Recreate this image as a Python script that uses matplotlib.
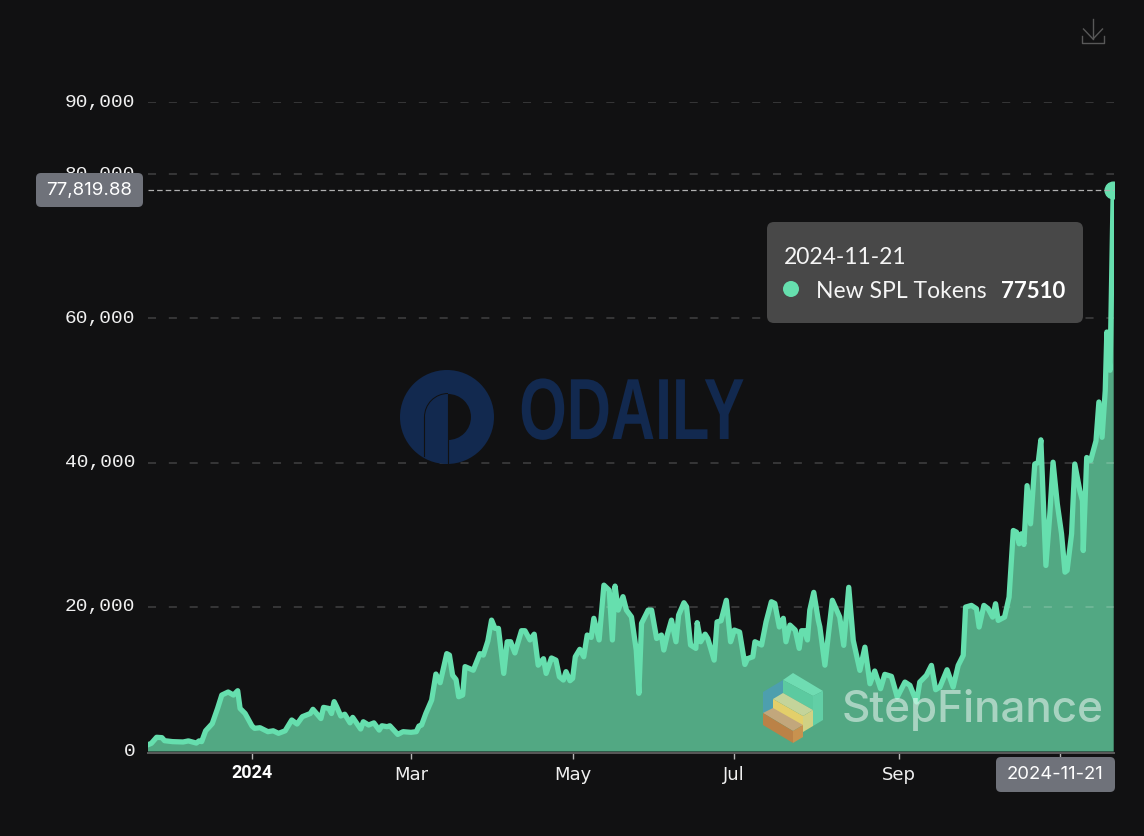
import matplotlib
matplotlib.use('Agg')
import matplotlib.pyplot as plt
from matplotlib.patches import Circle, FancyBboxPatch, Polygon, Wedge
from matplotlib.patheffects import AbstractPathEffect
from matplotlib.transforms import Affine2D

# days counted from 2024-01-01
days = [-39.5, -38, -36, -34, -33, -30, -26, -24, -21, -20, -19, -17.5, -15, -13, -11.4, -9, -7, -5.4, -4.5, -2.6,
        0, 1, 3, 6, 8, 10, 12.5, 15, 17, 19, 22, 23, 26, 27, 29, 30, 31, 32, 33.5, 35, 37, 38, 41, 42, 44, 46, 48, 49,
        51, 52, 55, 57, 60, 62, 63, 64, 65.6, 67.8, 69.4, 71, 73.5, 74.5, 75.7, 77, 78, 79.5, 80.4, 82, 83.5, 86,
        87.3, 89, 90.4, 91.7, 93, 95, 96.3, 97.6, 99.2, 101.7, 103, 104.9, 106.5, 108, 110, 111, 113, 114.7, 116,
        117.5, 118.5, 120, 121, 122, 123.7, 125.2, 126.5, 128, 129, 131, 132.8, 134.8, 136, 137, 138.2, 140, 141.3,
        143.2, 145, 146, 147, 149.5, 150.8, 152.7, 154.5, 155.4, 156.7, 158.3, 160, 161, 163, 164, 165.5, 167.5, 168,
        169.3, 171, 172, 174.4, 175.5, 177, 179, 180.6, 182, 184, 186, 187, 189, 189.8, 192.3, 194, 196, 197.3, 199,
        200.5, 201.5, 203, 205, 206.5, 207.4, 208.6, 209.6, 210.5, 212, 213.7, 214.3, 216.2, 219, 221.8, 223.3, 225.2,
        226.9, 229.4, 231.3, 233.2, 235, 237.2, 238.8, 241.3, 243.5, 246.4, 248.3, 250.8, 252, 254.5, 256.4, 258,
        259.6, 262.3, 264.6, 266.5, 268.4, 269.3, 271.5, 273.4, 274.4, 276.2, 277.8, 279.5, 280.6, 281.6, 284, 285.7,
        287.3, 288.5, 289.5, 290.4, 291.3, 292.5, 293.8, 295.4, 296.7, 297.7, 299.6, 301, 302.3, 303.9, 305.5, 306.8,
        307.6, 309.3, 310.5, 312.4, 313.4, 313.7, 315, 316.5, 318.5, 319.6, 320.8, 322, 322.6, 323.8, 325]
tokens = [830, 1060, 1900, 1850, 1430, 1300, 1250, 1400, 1100, 1400, 1300, 2800, 3800, 5900, 7760, 8180, 7760, 8360, 5900, 5200,
          3460, 3140, 3230, 2680, 2800, 2450, 2800, 4300, 3740, 4760, 5200, 5780, 4500, 6050, 5900, 5200, 6840, 6100, 4850, 5100, 3900, 4660, 3050, 4060, 3600, 3900, 2900, 3500,
          3370, 3500, 2300, 2680, 2590, 2680, 3460, 3600, 5200, 7070, 10670, 9470, 13500, 13300, 10500, 9900, 7530, 7760, 11700, 11450, 11200, 13500,
          13300, 15250, 18150, 17000, 17000, 10760, 15150, 15150, 13600, 16680, 16680, 15400, 16200, 11900, 12800, 10760, 12900, 12600, 10300,
          9840, 11000, 9750, 10070, 13070, 14100, 13070, 16080, 15750, 18400, 15400, 23000, 22300, 15400, 22870, 19540, 21400, 19540,
          18600, 14000, 8000, 17700, 19540, 19540, 15600, 16080, 14000, 16080, 18150, 15150, 18850, 20560, 20000, 14700, 14230, 17800,
          15150, 16200, 15600, 12600, 17900, 18060, 20900, 15150, 16770, 16500, 12000, 12800, 13070, 15150, 14700, 17900, 20700, 20460, 17200,
          18400, 15150, 17460, 16770, 14230, 16680, 16680, 15400, 19540, 22000, 18150, 17200, 11900, 20900, 18570, 14650, 22700,
          15340, 11180, 14400, 9330, 11090, 8640, 10630, 10350, 7480, 9560, 9100, 6800, 9560, 10490, 11870, 8500,
          8870, 11270, 8870, 11870, 13260, 19960, 20190, 19730, 17190, 20190, 19730, 18570, 20420, 18110, 18570, 21340,
          30580, 30350, 28740, 30120, 28640, 36800, 31500, 39800, 40000, 43150, 25730, 32430, 40050, 34280, 30120, 24800,
          25040, 30120, 39800, 36100, 34700, 27800, 40700, 40300, 43000, 48400, 43500, 50000, 58100, 52800, 77820]

y_ticks = [0, 20000, 40000, 60000, 80000, 90000]
y_labels = ['0', '20,000', '40,000', '60,000', '80,000', '90,000']
x_ticks = [0, 60, 121, 182, 244, 305]
x_labels = ['2024', 'Mar', 'May', 'Jul', 'Sep', '']
hover_value = 77819.88

BG = '#111112'
LINE = '#66dfae'
FILL = '#52a883'
W, H = 1144, 836

plt.rcParams['lines.scale_dashes'] = False
fig = plt.figure(figsize=(W / 100, H / 100), dpi=100, facecolor=BG)
ax = fig.add_axes([148 / W, (H - 751) / H, 966 / W, 649 / H], facecolor=BG)

ax.fill_between(days, tokens, 0, color=FILL, lw=0, zorder=1)
ax.plot(days, tokens, color=LINE, lw=3.8, solid_joinstyle='round', zorder=4)
ax.plot(days[-1], hover_value, 'o', color=LINE, ms=12, zorder=5)

for v in y_ticks[1:]:
    ax.axhline(v, color='white', alpha=0.2, lw=1.1, dashes=(5.8, 9.2), zorder=3)
ax.axhline(hover_value, color='#b0b0b0', lw=0.9, dashes=(4, 2.2), zorder=6)

ax.set_xlim(-39.25, 325.3)
ax.set_ylim(0, 90000)
ax.set_yticks(y_ticks)
ax.set_yticklabels(y_labels, family='Liberation Mono', va='center')
ax.set_xticks(x_ticks)
ax.set_xticklabels([''] + x_labels[1:], family='Inter')
ax.tick_params(axis='y', length=0, pad=9, labelsize=14, labelcolor='#f0f0f0')
ax.tick_params(axis='x', length=4.5, width=1, color='#b5b5b5', pad=5, labelsize=13, labelcolor='#f0f0f0')
# the year label is bold, so it gets its own text under its tick
ax.text(x_ticks[0], -22 / 649, x_labels[0], transform=ax.get_xaxis_transform(), family='Roboto', weight='bold',
        fontsize=13, color='white', ha='center', va='center', clip_on=False)
for s in ['top', 'right', 'left']:
    ax.spines[s].set_visible(False)
ax.spines['bottom'].set_color('#5a5a5a')
ax.spines['bottom'].set_linewidth(1.4)
ax.spines['bottom'].set_position(('outward', 1.5))

# everything that is not data sits on a pixel overlay
ov = fig.add_axes([0, 0, 1, 1], facecolor='none', zorder=10)
ov.set_xlim(0, W)
ov.set_ylim(H, 0)
ov.axis('off')


def box(x0, y0, x1, y1, color, r=5):
    ov.add_patch(FancyBboxPatch((x0, y0), x1 - x0, y1 - y0, boxstyle=f'round,pad=0,rounding_size={r}',
                                fc=color, ec='none'))


class TallText(AbstractPathEffect):
    # no narrow font is installed, so stretch the glyphs upwards about the text's middle
    def __init__(self, factor, mid):
        super().__init__()
        self.factor = factor
        self.mid = mid

    def draw_path(self, renderer, gc, tpath, affine, rgbFace=None):
        stretch = Affine2D().translate(0, -self.mid).scale(1, self.factor).translate(0, self.mid)
        renderer.draw_path(gc, tpath, affine + stretch, rgbFace)


box(36, 173, 143, 207, '#6f727a')
ov.text(89, 190.5, '77,819.88', color='white', fontsize=13.5, family='Inter', ha='center', va='center')
box(996, 757, 1115, 792, '#6f727a')
ov.text(1055, 774.5, '2024-11-21', color='white', fontsize=13.3, family='Inter', ha='center', va='center')

box(767, 222, 1083, 323, '#484848', 7)
ov.text(784, 258, '2024-11-21', color='#f5f5f5', fontsize=16.5, family='Lato', ha='left', va='center')
ov.add_patch(Circle((791, 289), 8, fc=LINE, ec='none'))
ov.text(816, 291, 'New SPL Tokens', color='#f5f5f5', fontsize=16.5, family='Lato', ha='left', va='center')
ov.text(1065, 291, '77510', color='white', fontsize=16, family='Lato', weight='bold', ha='right', va='center')

# download icon
ov.plot([1093, 1093], [19, 39], color='#585858', lw=1)
ov.plot([1083.5, 1093, 1102.5], [29, 39, 29], color='#585858', lw=1)
ov.plot([1082, 1082, 1104, 1104], [36, 42.5, 42.5, 36], color='#585858', lw=1)

# ODAILY mark
NAVY = '#12294f'
ov.add_patch(Circle((447, 417), 47, fc=NAVY, ec='none'))
ov.add_patch(Wedge((448, 417), 23, -90, 90, fc=BG, ec='none'))
ov.add_patch(Wedge((448, 417), 24, 180, 270, width=1, fc=BG, ec='none'))
ov.plot([424, 424], [417, 456], color=BG, lw=0.8)
ov.plot([448, 448], [394, 463], color=BG, lw=0.8)
ov.text(632, 417, 'ODAILY', color=NAVY, fontsize=44, family='Liberation Sans', weight='bold',
        ha='center', va='center', path_effects=[TallText(1.42, H - 417)])

# StepFinance mark
ov.add_patch(Polygon([(763, 692), (783, 680), (783, 695), (773, 699), (773, 717), (763, 713)], fc='#4d9fae', ec='none'))
ov.add_patch(Polygon([(783, 680), (793, 673), (823, 691), (813, 696)], fc='#6fdcb2', ec='none'))
ov.add_patch(Polygon([(783, 680), (813, 696), (813, 710), (783, 693)], fc='#5ccaa0', ec='none'))
ov.add_patch(Polygon([(813, 696), (823, 691), (823, 720), (813, 726)], fc='#62cfa6', ec='none'))
ov.add_patch(Polygon([(773, 699), (783, 693), (813, 710), (803, 716)], fc='#c4d49a', ec='none'))
ov.add_patch(Polygon([(773, 699), (803, 716), (803, 727), (773, 712)], fc='#e3cf6a', ec='none'))
ov.add_patch(Polygon([(803, 716), (813, 710), (813, 726), (803, 732)], fc='#d0d184', ec='none'))
ov.add_patch(Polygon([(763, 713), (773, 708), (803, 725), (793, 731)], fc='#c2a77c', ec='none'))
ov.add_patch(Polygon([(763, 713), (793, 731), (793, 743), (763, 725)], fc='#bb8247', ec='none'))
ov.add_patch(Polygon([(793, 731), (803, 725), (803, 737), (793, 743)], fc='#c8924f', ec='none'))
ov.text(842, 710, 'StepFinance', color='white', alpha=0.5, fontsize=31.7, family='Inter', weight='medium',
        ha='left', va='center')

fig.savefig('out.png', dpi=100, facecolor=BG)
